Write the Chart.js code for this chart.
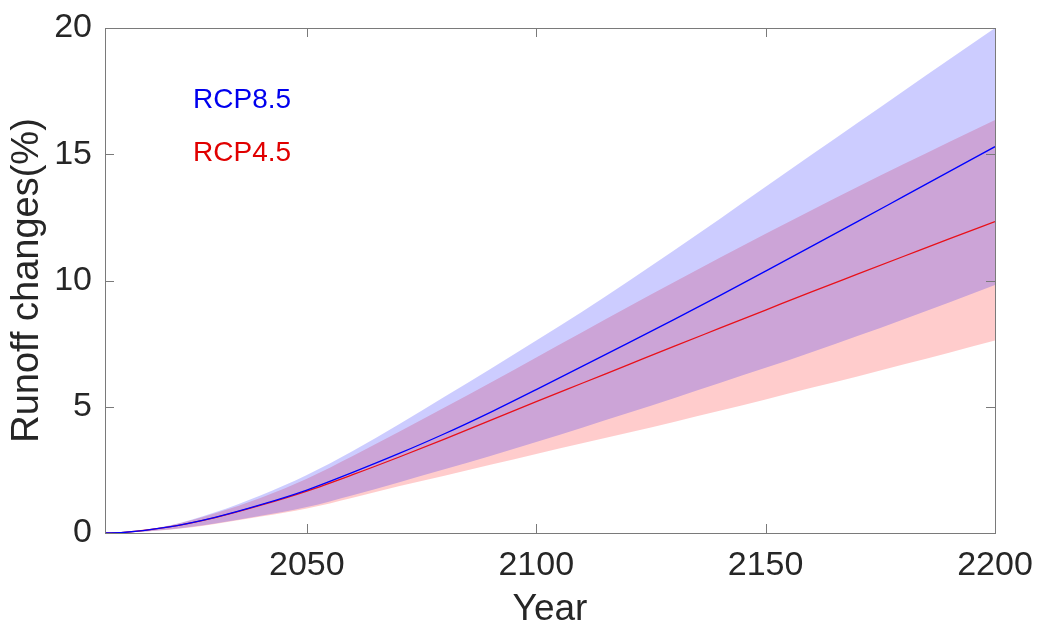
<!DOCTYPE html>
<html>
<head>
<meta charset="utf-8">
<script src="https://cdn.jsdelivr.net/npm/chart.js@4"></script>
<style>
  html, body { margin: 0; padding: 0; background: #fff; }
  #wrap { width: 1038px; height: 626px; }
</style>
</head>
<body>
<div id="wrap"><canvas id="runoffChart" width="1038" height="626"></canvas></div>
<script>
// DATA
const years = [2006, 2010, 2020, 2030, 2040, 2050, 2060, 2070, 2080, 2090, 2100, 2110, 2120, 2130, 2140, 2150, 2160, 2170, 2180, 2190, 2200];

const rcp85Mean  = [0, 0.02, 0.24, 0.62, 1.12, 1.70, 2.4, 3.14, 3.93, 4.78, 5.68, 6.6, 7.52, 8.45, 9.4, 10.37, 11.35, 12.33, 13.32, 14.31, 15.3];
const rcp85Upper = [0, 0.03, 0.3, 0.82, 1.5, 2.3, 3.25, 4.3, 5.4, 6.5, 7.62, 8.76, 9.96, 11.19, 12.44, 13.71, 14.98, 16.24, 17.5, 18.75, 20.0];
const rcp85Lower = [0, 0.01, 0.14, 0.38, 0.68, 1.03, 1.5, 2.0, 2.52, 3.05, 3.6, 4.17, 4.75, 5.34, 5.94, 6.54, 7.16, 7.8, 8.46, 9.13, 9.82];

const rcp45Mean  = [0, 0.02, 0.24, 0.61, 1.1, 1.66, 2.31, 3.0, 3.72, 4.46, 5.2, 5.93, 6.66, 7.39, 8.11, 8.83, 9.55, 10.25, 10.95, 11.65, 12.33];
const rcp45Upper = [0, 0.03, 0.29, 0.78, 1.4, 2.15, 3.05, 4.0, 4.97, 5.95, 6.95, 7.95, 8.95, 9.93, 10.9, 11.85, 12.78, 13.7, 14.6, 15.49, 16.36];
const rcp45Lower = [0, 0.01, 0.13, 0.36, 0.65, 0.97, 1.4, 1.85, 2.27, 2.7, 3.13, 3.55, 3.97, 4.4, 4.84, 5.29, 5.75, 6.2, 6.67, 7.14, 7.62];

const xTicks = [2050, 2100, 2150, 2200];
const yTicks = [0, 5, 10, 15, 20];

const seriesNames = ['RCP8.5', 'RCP4.5'];

const FONT = '"Liberation Sans", Arial, Helvetica, sans-serif';
const TEXT = '#262626';
const FRAME = '#7a7a7a';

function pts(values) {
  return years.map((yr, i) => ({ x: yr, y: values[i] }));
}

function band(values, fill, color) {
  return {
    data: pts(values),
    borderWidth: 0,
    pointRadius: 0,
    fill: fill,
    backgroundColor: color,
    cubicInterpolationMode: 'monotone'
  };
}

function meanLine(values, color) {
  return {
    data: pts(values),
    borderColor: color,
    borderWidth: 1.3,
    pointRadius: 0,
    fill: false,
    cubicInterpolationMode: 'monotone'
  };
}

// frame + inward tick marks (matlab box style)
const boxPlugin = {
  id: 'box',
  afterDatasetsDraw(chart) {
    const { ctx, chartArea: a, scales } = chart;
    ctx.save();
    ctx.strokeStyle = FRAME;
    ctx.lineWidth = 1;
    ctx.strokeRect(Math.round(a.left) + 0.5, Math.round(a.top) + 0.5,
      Math.round(a.right - a.left), Math.round(a.bottom - a.top));
    ctx.beginPath();
    xTicks.forEach(v => {
      if (v <= scales.x.min || v >= scales.x.max) return;
      const px = Math.round(scales.x.getPixelForValue(v)) + 0.5;
      ctx.moveTo(px, a.bottom); ctx.lineTo(px, a.bottom - 9);
      ctx.moveTo(px, a.top); ctx.lineTo(px, a.top + 9);
    });
    yTicks.forEach(v => {
      if (v <= scales.y.min || v >= scales.y.max) return;
      const py = Math.round(scales.y.getPixelForValue(v)) + 0.5;
      ctx.moveTo(a.left, py); ctx.lineTo(a.left + 9, py);
      ctx.moveTo(a.right, py); ctx.lineTo(a.right - 9, py);
    });
    ctx.stroke();

    // series labels inside the plot
    ctx.font = '28px ' + FONT;
    ctx.textAlign = 'left';
    ctx.textBaseline = 'middle';
    ctx.fillStyle = '#0000ee';
    ctx.fillText(seriesNames[0], scales.x.getPixelForValue(2025.2), scales.y.getPixelForValue(17.15));
    ctx.fillStyle = '#e00000';
    ctx.fillText(seriesNames[1], scales.x.getPixelForValue(2025.2), scales.y.getPixelForValue(15.05));
    ctx.restore();
  }
};

const ctx = document.getElementById('runoffChart').getContext('2d');
const runoffChart = new Chart(ctx, {
  type: 'line',
  data: {
    datasets: [
      band(rcp85Upper, false, 'transparent'),
      band(rcp85Lower, '-1', 'rgba(0, 0, 255, 0.2)'),
      band(rcp45Upper, false, 'transparent'),
      band(rcp45Lower, '-1', 'rgba(255, 0, 0, 0.2)'),
      meanLine(rcp85Mean, '#0000ff'),
      meanLine(rcp45Mean, '#e8101a')
    ]
  },
  options: {
    responsive: false,
    animation: false,
    layout: { padding: { top: 28, right: 43, left: 0, bottom: 0 } },
    plugins: {
      legend: { display: false },
      tooltip: { enabled: false },
      filler: { drawTime: 'beforeDatasetsDraw' }
    },
    scales: {
      x: {
        type: 'linear',
        min: 2006,
        max: 2200,
        afterBuildTicks: s => { s.ticks = xTicks.map(v => ({ value: v })); },
        afterFit: s => { s.height = 93; s.paddingLeft = 0; s.paddingRight = 0; },
        grid: { display: false, drawTicks: false },
        border: { display: false },
        ticks: {
          callback: v => String(v),
          color: TEXT,
          padding: 16,
          maxRotation: 0,
          font: { family: FONT, size: 34, lineHeight: 1 }
        },
        title: {
          display: true,
          text: 'Year',
          color: TEXT,
          padding: { top: 0, bottom: -2 },
          font: { family: FONT, size: 37, lineHeight: 1 }
        }
      },
      y: {
        min: 0,
        max: 20,
        afterBuildTicks: s => { s.ticks = yTicks.map(v => ({ value: v })); },
        afterFit: s => { s.width = 105; s.paddingTop = 0; s.paddingBottom = 0; },
        grid: { display: false, drawTicks: false },
        border: { display: false },
        ticks: {
          callback: v => String(v),
          color: TEXT,
          padding: 13,
          font: { family: FONT, size: 34, lineHeight: 1 }
        },
        title: {
          display: true,
          text: 'Runoff changes(%)',
          color: TEXT,
          padding: { top: 9, bottom: 0 },
          font: { family: FONT, size: 38, lineHeight: 1 }
        }
      }
    }
  },
  plugins: [boxPlugin]
});
</script>
</body>
</html>
